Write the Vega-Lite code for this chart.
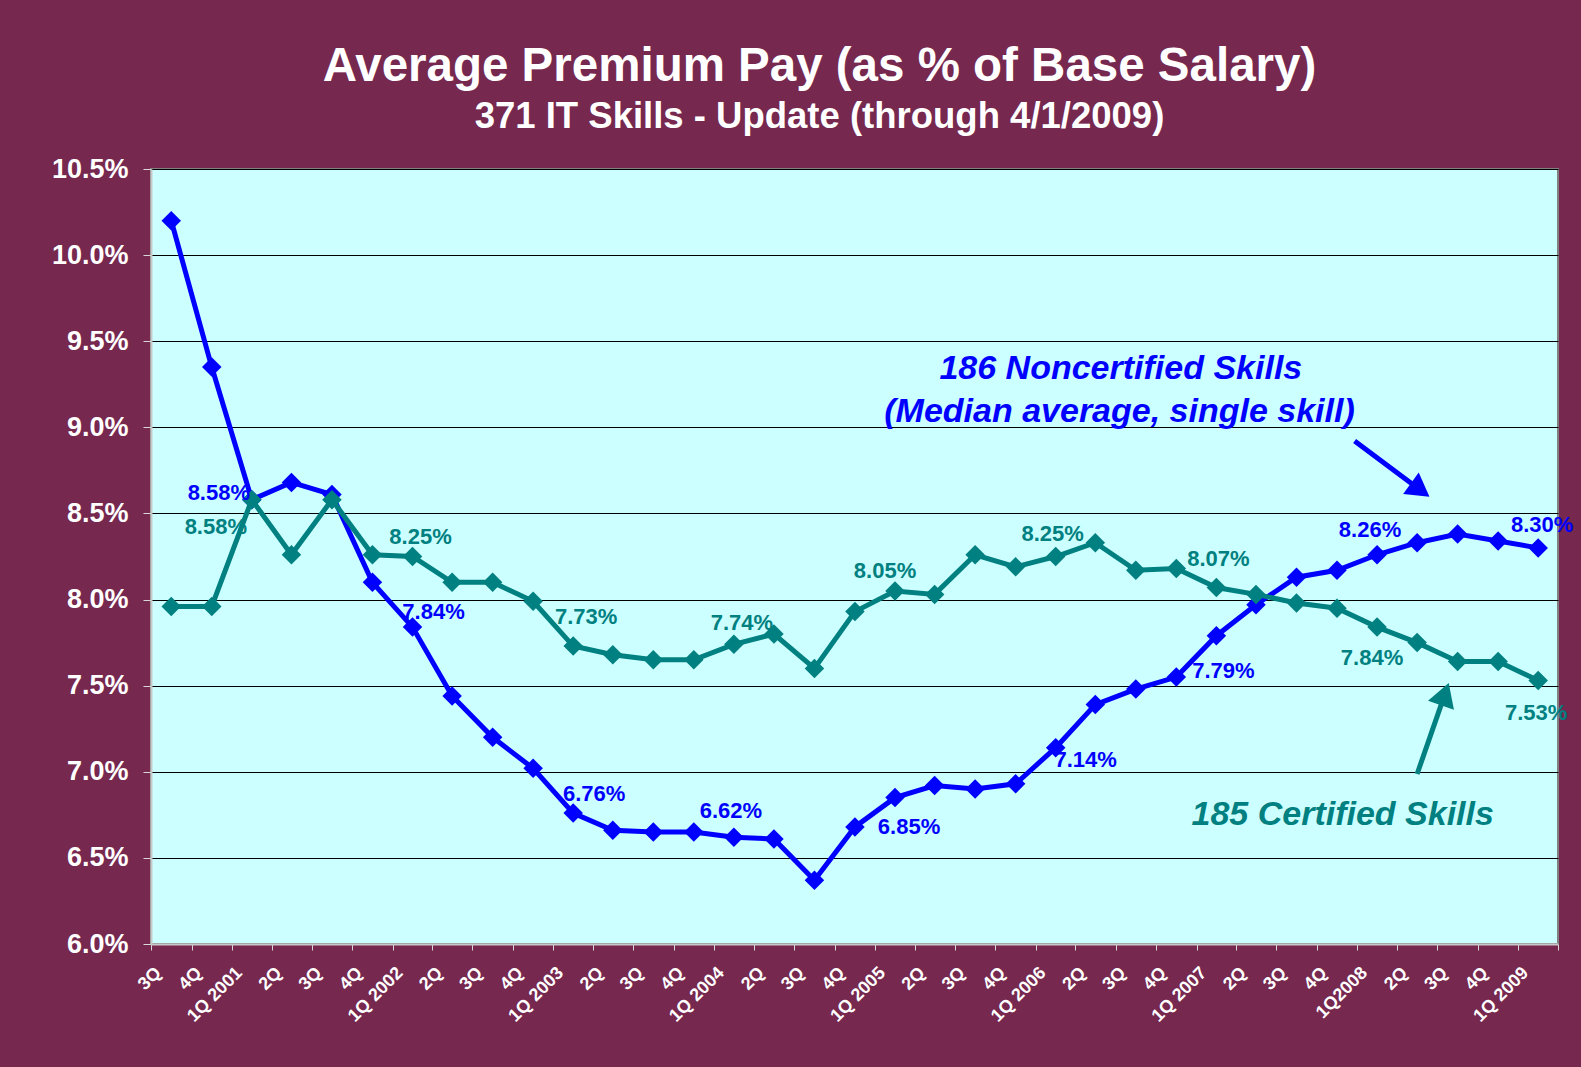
{
  "$schema": "https://vega.github.io/schema/vega-lite/v6.json",
  "width": 1407,
  "height": 775,
  "autosize": {"type": "none"},
  "padding": {"left": 151, "top": 169, "right": 23, "bottom": 123},
  "background": "#76284f",
  "config": {
    "font": "Liberation Sans",
    "view": {"fill": "#CCFFFF", "stroke": "#808080", "strokeWidth": 2}
  },
  "title": {
    "text": "Average Premium Pay (as % of Base Salary)",
    "subtitle": "371 IT Skills - Update (through 4/1/2009)",
    "anchor": "middle",
    "frame": "group",
    "dx": -35,
    "offset": 20,
    "color": "white",
    "font": "Liberation Sans",
    "fontSize": 47.5,
    "fontWeight": "bold",
    "subtitleColor": "white",
    "subtitleFont": "Liberation Sans",
    "subtitleFontSize": 36.5,
    "subtitleFontWeight": "bold",
    "subtitlePadding": 8
  },
  "datasets": {
    "pay": [
      {"q": "2000-3", "date": "2000-08-16", "noncert": 0.1020, "cert": 0.0796},
      {"q": "2000-4", "date": "2000-11-16", "noncert": 0.0935, "cert": 0.0796},
      {"q": "2001-1", "date": "2001-02-15", "noncert": 0.0858, "cert": 0.0858},
      {"q": "2001-2", "date": "2001-05-16", "noncert": 0.0868, "cert": 0.0826},
      {"q": "2001-3", "date": "2001-08-16", "noncert": 0.0861, "cert": 0.0858},
      {"q": "2001-4", "date": "2001-11-16", "noncert": 0.0810, "cert": 0.0826},
      {"q": "2002-1", "date": "2002-02-15", "noncert": 0.0784, "cert": 0.0825},
      {"q": "2002-2", "date": "2002-05-16", "noncert": 0.0744, "cert": 0.0810},
      {"q": "2002-3", "date": "2002-08-16", "noncert": 0.0720, "cert": 0.0810},
      {"q": "2002-4", "date": "2002-11-16", "noncert": 0.0702, "cert": 0.0799},
      {"q": "2003-1", "date": "2003-02-15", "noncert": 0.0676, "cert": 0.0773},
      {"q": "2003-2", "date": "2003-05-16", "noncert": 0.0666, "cert": 0.0768},
      {"q": "2003-3", "date": "2003-08-16", "noncert": 0.0665, "cert": 0.0765},
      {"q": "2003-4", "date": "2003-11-16", "noncert": 0.0665, "cert": 0.0765},
      {"q": "2004-1", "date": "2004-02-15", "noncert": 0.0662, "cert": 0.0774},
      {"q": "2004-2", "date": "2004-05-16", "noncert": 0.0661, "cert": 0.0780},
      {"q": "2004-3", "date": "2004-08-16", "noncert": 0.0637, "cert": 0.0760},
      {"q": "2004-4", "date": "2004-11-16", "noncert": 0.0668, "cert": 0.0793},
      {"q": "2005-1", "date": "2005-02-15", "noncert": 0.0685, "cert": 0.0805},
      {"q": "2005-2", "date": "2005-05-16", "noncert": 0.0692, "cert": 0.0803},
      {"q": "2005-3", "date": "2005-08-16", "noncert": 0.0690, "cert": 0.0826},
      {"q": "2005-4", "date": "2005-11-16", "noncert": 0.0693, "cert": 0.0819},
      {"q": "2006-1", "date": "2006-02-15", "noncert": 0.0714, "cert": 0.0825},
      {"q": "2006-2", "date": "2006-05-16", "noncert": 0.0739, "cert": 0.0833},
      {"q": "2006-3", "date": "2006-08-16", "noncert": 0.0748, "cert": 0.0817},
      {"q": "2006-4", "date": "2006-11-16", "noncert": 0.0755, "cert": 0.0818},
      {"q": "2007-1", "date": "2007-02-15", "noncert": 0.0779, "cert": 0.0807},
      {"q": "2007-2", "date": "2007-05-16", "noncert": 0.0797, "cert": 0.0803},
      {"q": "2007-3", "date": "2007-08-16", "noncert": 0.0813, "cert": 0.0798},
      {"q": "2007-4", "date": "2007-11-16", "noncert": 0.0817, "cert": 0.0795},
      {"q": "2008-1", "date": "2008-02-15", "noncert": 0.0826, "cert": 0.0784},
      {"q": "2008-2", "date": "2008-05-16", "noncert": 0.0833, "cert": 0.0775},
      {"q": "2008-3", "date": "2008-08-16", "noncert": 0.0838, "cert": 0.0764},
      {"q": "2008-4", "date": "2008-11-16", "noncert": 0.0834, "cert": 0.0764},
      {"q": "2009-1", "date": "2009-02-15", "noncert": 0.0830, "cert": 0.0753}
    ],
    "notes": [
      {"label": "186 Noncertified Skills", "series": "Noncertified", "date": "2006-07-13", "y": 0.0928},
      {"label": "(Median average, single skill)", "series": "Noncertified", "date": "2006-07-10", "y": 0.0903},
      {"label": "185 Certified Skills", "series": "Certified", "date": "2007-11-29", "y": 0.0669}
    ],
    "arrows": [
      {"series": "Noncertified", "date": "2007-12-26", "y": 0.0892, "date2": "2008-05-23", "y2": 0.08636},
      {"series": "Certified", "date": "2008-05-16", "y": 0.06987, "date2": "2008-07-18", "y2": 0.07451}
    ]
  },
  "encoding": {
    "x": {
      "field": "date",
      "type": "temporal",
      "scale": {
        "type": "utc",
        "domain": [{"year": 2000, "month": 7, "date": 1, "utc": true}, {"year": 2009, "month": 4, "date": 1, "utc": true}],
        "nice": false
      },
      "axis": {
        "title": null,
        "tickCount": {"interval": "month", "step": 3},
        "labelExpr": "(utcyear(datum.value)==2009 && utcmonth(datum.value)==3) ? '' : (utcmonth(datum.value)==0 ? ('1Q' + (utcyear(datum.value)==2008 ? '' : ' ') + utcyear(datum.value)) : ((floor(utcmonth(datum.value)/3)+1) + 'Q'))",
        "labelAngle": -45,
        "labelAlign": "right",
        "labelBaseline": "middle",
        "labelFontSize": 18,
        "labelFontWeight": "bold",
        "labelColor": "white",
        "labelPadding": 20,
        "labelOffset": 7,
        "labelFlush": false,
        "labelOverlap": false,
        "labelBound": false,
        "domainColor": "#c8c8c8",
        "domainWidth": 2,
        "tickColor": "#d8d8d8",
        "tickSize": 6,
        "grid": false
      }
    },
    "y": {
      "field": "noncert",
      "type": "quantitative",
      "scale": {"domain": [0.06, 0.105], "nice": false, "zero": false},
      "axis": {
        "title": null,
        "values": [0.06, 0.065, 0.07, 0.075, 0.08, 0.085, 0.09, 0.095, 0.1, 0.105],
        "format": ".1%",
        "grid": true,
        "gridColor": "#000000",
        "gridWidth": 1,
        "domainColor": "#c8c8c8",
        "domainWidth": 2,
        "tickColor": "#d8d8d8",
        "tickSize": 8,
        "labelColor": "white",
        "labelFontSize": 27,
        "labelFontWeight": "bold",
        "labelPadding": 15
      }
    }
  },
  "layer": [
    {
      "data": {"name": "pay"},
      "mark": {"type": "line", "color": "#0000FF", "strokeWidth": 5, "point": {"filled": true, "shape": "diamond", "size": 380, "color": "#0000FF"}}
    },
    {
      "data": {"name": "pay"},
      "mark": {"type": "line", "color": "#008080", "strokeWidth": 5, "point": {"filled": true, "shape": "diamond", "size": 380, "color": "#008080"}},
      "encoding": {"y": {"field": "cert", "type": "quantitative"}}
    },
    {
      "data": {"name": "pay"},
      "encoding": {"text": {"field": "noncert", "type": "quantitative", "format": ".2%"}},
      "layer": [
        {"transform": [{"filter": "datum.q=='2001-1'"}], "mark": {"type": "text", "color": "#0000FF", "fontSize": 22, "fontWeight": "bold", "dx": -33, "dy": -7}},
        {"transform": [{"filter": "datum.q=='2002-1'"}], "mark": {"type": "text", "color": "#0000FF", "fontSize": 22, "fontWeight": "bold", "dx": 21, "dy": -15}},
        {"transform": [{"filter": "datum.q=='2003-1'"}], "mark": {"type": "text", "color": "#0000FF", "fontSize": 22, "fontWeight": "bold", "dx": 21, "dy": -19}},
        {"transform": [{"filter": "datum.q=='2004-1'"}], "mark": {"type": "text", "color": "#0000FF", "fontSize": 22, "fontWeight": "bold", "dx": -3, "dy": -26}},
        {"transform": [{"filter": "datum.q=='2005-1'"}], "mark": {"type": "text", "color": "#0000FF", "fontSize": 22, "fontWeight": "bold", "dx": 14, "dy": 29}},
        {"transform": [{"filter": "datum.q=='2006-1'"}], "mark": {"type": "text", "color": "#0000FF", "fontSize": 22, "fontWeight": "bold", "dx": 30, "dy": 12}},
        {"transform": [{"filter": "datum.q=='2007-1'"}], "mark": {"type": "text", "color": "#0000FF", "fontSize": 22, "fontWeight": "bold", "dx": 7, "dy": 35}},
        {"transform": [{"filter": "datum.q=='2008-1'"}], "mark": {"type": "text", "color": "#0000FF", "fontSize": 22, "fontWeight": "bold", "dx": -7, "dy": -25}},
        {"transform": [{"filter": "datum.q=='2009-1'"}], "mark": {"type": "text", "color": "#0000FF", "fontSize": 22, "fontWeight": "bold", "dx": 4, "dy": -23}}
      ]
    },
    {
      "data": {"name": "pay"},
      "encoding": {
        "y": {"field": "cert", "type": "quantitative"},
        "text": {"field": "cert", "type": "quantitative", "format": ".2%"}
      },
      "layer": [
        {"transform": [{"filter": "datum.q=='2001-1'"}], "mark": {"type": "text", "color": "#008080", "fontSize": 22, "fontWeight": "bold", "dx": -36, "dy": 27}},
        {"transform": [{"filter": "datum.q=='2002-1'"}], "mark": {"type": "text", "color": "#008080", "fontSize": 22, "fontWeight": "bold", "dx": 8, "dy": -20}},
        {"transform": [{"filter": "datum.q=='2003-1'"}], "mark": {"type": "text", "color": "#008080", "fontSize": 22, "fontWeight": "bold", "dx": 13, "dy": -29}},
        {"transform": [{"filter": "datum.q=='2004-1'"}], "mark": {"type": "text", "color": "#008080", "fontSize": 22, "fontWeight": "bold", "dx": 8, "dy": -21}},
        {"transform": [{"filter": "datum.q=='2005-1'"}], "mark": {"type": "text", "color": "#008080", "fontSize": 22, "fontWeight": "bold", "dx": -10, "dy": -20}},
        {"transform": [{"filter": "datum.q=='2006-1'"}], "mark": {"type": "text", "color": "#008080", "fontSize": 22, "fontWeight": "bold", "dx": -3, "dy": -23}},
        {"transform": [{"filter": "datum.q=='2007-1'"}], "mark": {"type": "text", "color": "#008080", "fontSize": 22, "fontWeight": "bold", "dx": 2, "dy": -29}},
        {"transform": [{"filter": "datum.q=='2008-1'"}], "mark": {"type": "text", "color": "#008080", "fontSize": 22, "fontWeight": "bold", "dx": -5, "dy": 31}},
        {"transform": [{"filter": "datum.q=='2009-1'"}], "mark": {"type": "text", "color": "#008080", "fontSize": 22, "fontWeight": "bold", "dx": -2, "dy": 32}}
      ]
    },
    {
      "data": {"name": "arrows"},
      "mark": {"type": "rule", "strokeWidth": 5},
      "encoding": {
        "y": {"field": "y", "type": "quantitative"},
        "x2": {"field": "date2"},
        "y2": {"field": "y2"},
        "color": {"field": "series", "type": "nominal", "scale": {"domain": ["Noncertified", "Certified"], "range": ["#0000FF", "#008080"]}, "legend": null}
      }
    },
    {
      "data": {"name": "arrows"},
      "transform": [{"filter": "datum.series=='Noncertified'"}],
      "mark": {"type": "point", "shape": "triangle-up", "filled": true, "opacity": 1, "size": 700, "angle": 126, "color": "#0000FF"},
      "encoding": {
        "x": {"field": "date2", "type": "temporal"},
        "y": {"field": "y2", "type": "quantitative"}
      }
    },
    {
      "data": {"name": "arrows"},
      "transform": [{"filter": "datum.series=='Certified'"}],
      "mark": {"type": "point", "shape": "triangle-up", "filled": true, "opacity": 1, "size": 750, "angle": 19, "color": "#008080"},
      "encoding": {
        "x": {"field": "date2", "type": "temporal"},
        "y": {"field": "y2", "type": "quantitative"}
      }
    },
    {
      "data": {"name": "notes"},
      "mark": {"type": "text", "fontSize": 34, "fontWeight": "bold", "fontStyle": "italic", "align": "center", "baseline": "alphabetic"},
      "encoding": {
        "y": {"field": "y", "type": "quantitative"},
        "text": {"field": "label"},
        "color": {"field": "series", "type": "nominal", "scale": {"domain": ["Noncertified", "Certified"], "range": ["#0000FF", "#008080"]}, "legend": null}
      }
    }
  ]
}
